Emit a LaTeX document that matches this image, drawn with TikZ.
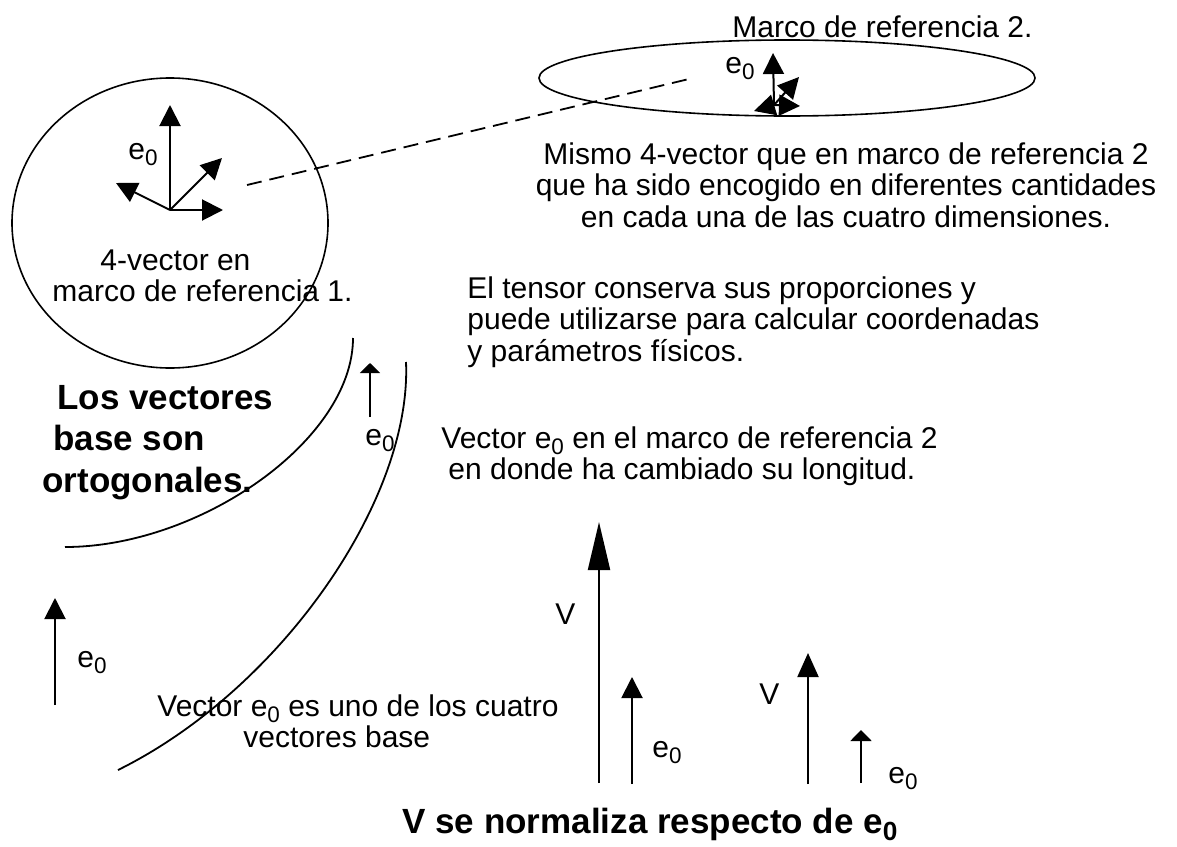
\documentclass[tikz,border=0pt]{standalone}
\usepackage{fontspec}
\setmainfont{Liberation Sans}
\usepackage{tikz}
\usetikzlibrary{arrows.meta}

\newcommand{\ez}{e\raisebox{-0.2em}{\scalebox{0.75}{0}}}

\tikzset{
	txt/.style={font=\fontsize{15}{15.75}\selectfont, inner sep=0pt},
	boldtxt/.style={font=\bfseries\fontsize{17.5}{20.75}\selectfont, inner sep=0pt},
	vec/.style={line width=1pt, -{Triangle[length=10.5pt, width=10.5pt]}},
	smallvec/.style={line width=1pt, -{Triangle[length=5pt, width=10pt]}},
	longvec/.style={line width=1pt, -{Triangle[length=24pt, width=11pt]}},
	frame/.style={line width=0.8pt},
	curve/.style={line width=0.9pt}
}

\begin{document}
\begin{tikzpicture}[x=0.5pt, y=-0.5pt]

	\useasboundingbox (0,0) rectangle (1177,846);

	% marco de referencia 1
	\draw[frame] (170,223) ellipse [x radius=158, y radius=145];
	\coordinate (o1) at (170,210);
	\coordinate (up1) at (170,105);
	\coordinate (rt1) at (223,210);
	\coordinate (dg1) at (222,158);
	\coordinate (lf1) at (116,183);
	\draw[vec] (o1) -- (up1);
	\draw[vec] (o1) -- (rt1);
	\draw[vec] (o1) -- (dg1);
	\draw[vec] (o1) -- (lf1);
	\node[txt, anchor=base west] (e1) at (128,159) {\ez};
	\node[txt, anchor=north west, align=left] (frame1) at (52,249)
		{\hspace*{24pt}4-vector en\\marco de referencia 1.};

	% marco de referencia 2
	\draw[frame] (787,78) ellipse [x radius=248, y radius=38];
	\node[txt, anchor=base west] (title2) at (732,37) {Marco de referencia 2.};
	\coordinate (o2) at (774,105);
	\coordinate (up2) at (773,53);
	\coordinate (rt2) at (800,106);
	\coordinate (dg2) at (799,77);
	\coordinate (lf2) at (754,111);
	\draw[vec] (o2) -- (up2);
	\draw[vec] (o2) -- (rt2);
	\draw[vec] (o2) -- (dg2);
	\draw[vec] (o2) -- (lf2);
	\node[txt, anchor=base west] (e2) at (725,73) {\ez};

	\coordinate (d1) at (247,185);
	\coordinate (d2) at (689,79);
	\draw[line width=0.9pt, dash pattern=on 7.5pt off 4pt] (d1) -- (d2);

	\node[txt, anchor=north, align=center] (same) at (846,142)
		{Mismo 4-vector que en marco de referencia 2\\
		 que ha sido encogido en diferentes cantidades\\
		 en cada una de las cuatro dimensiones.};
	\node[txt, anchor=north west, align=left] (tensor) at (467,276)
		{El tensor conserva sus proporciones y\\
		 puede utilizarse para calcular coordenadas\\
		 y par\'ametros f\'isicos.};

	% arcos
	\draw[curve] (353,338) .. controls (353,440) and (200,547) .. (65,547);
	\draw[curve] (406,362) .. controls (412,500) and (280,690) .. (118,770);

	\node[boldtxt, anchor=north west, align=left] (ortho) at (42,385)
		{\hspace*{7.5pt}Los vectores\\\hspace*{5.5pt}base son\\ortogonales.};

	\coordinate (a1) at (370,417);
	\coordinate (b1) at (370,363);
	\draw[smallvec] (a1) -- (b1);
	\node[txt, anchor=base west] (e3) at (365,445) {\ez};

	\node[txt, anchor=north west, align=left] (change) at (441,426)
		{Vector \ez\ en el marco de referencia 2\\
		 \hspace*{3.5pt}en donde ha cambiado su longitud.};

	% vector base
	\coordinate (a2) at (55,705);
	\coordinate (b2) at (55,598);
	\draw[vec] (a2) -- (b2);
	\node[txt, anchor=base west] (e4) at (77,667) {\ez};
	\node[txt, anchor=north west, align=left] (base) at (157,694)
		{Vector \ez\ es uno de los cuatro\\\hspace*{43pt}vectores base};

	% normalizacion
	\coordinate (v1a) at (599,783);
	\coordinate (v1b) at (599,522);
	\coordinate (e5a) at (632,784);
	\coordinate (e5b) at (632,677);
	\coordinate (v2a) at (808,784);
	\coordinate (v2b) at (808,653);
	\coordinate (e6a) at (861,783);
	\coordinate (e6b) at (861,730);
	\draw[longvec] (v1a) -- (v1b);
	\draw[vec] (e5a) -- (e5b);
	\draw[-{Triangle[length=12pt, width=10.5pt]}, line width=1pt] (v2a) -- (v2b);
	\draw[-{Triangle[length=5.5pt, width=10.5pt]}, line width=1pt] (e6a) -- (e6b);
	\node[txt, anchor=base west] (v1) at (555,624) {V};
	\node[txt, anchor=base west] (v2) at (759,704) {V};
	\node[txt, anchor=base west] (e5) at (652,757) {\ez};
	\node[txt, anchor=base west] (e6) at (888,783) {\ez};
	\node[boldtxt, anchor=base west] (norm) at (402,833) {V se normaliza respecto de \ez};

\end{tikzpicture}
\end{document}
